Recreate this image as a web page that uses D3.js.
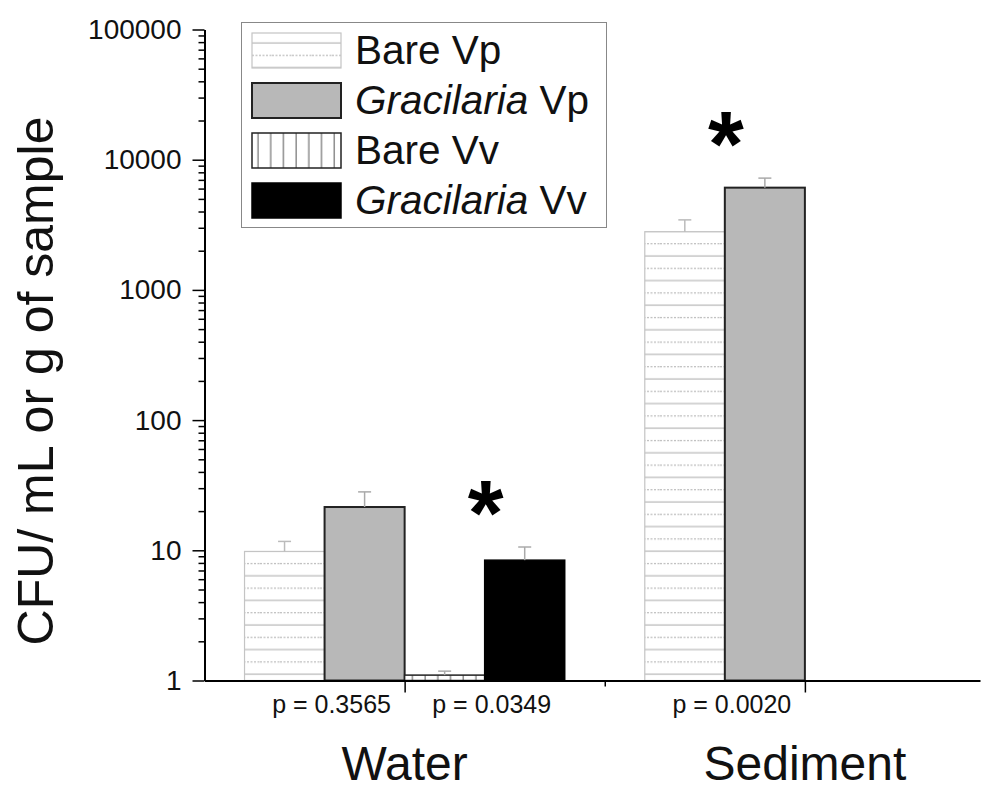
<!DOCTYPE html>
<html>
<head>
<meta charset="utf-8">
<script src="https://cdn.jsdelivr.net/npm/d3@7"></script>
<style>
  body { margin: 0; background: #fff; }
  svg { display: block; font-family: "Liberation Sans", Arial, sans-serif; }
</style>
</head>
<body>
<div id="chart"></div>
<script>
// categories on the x axis
var categories = ["Water", "Sediment"];
// the four series, in legend order
var seriesNames = ["Bare Vp", "Gracilaria Vp", "Bare Vv", "Gracilaria Vv"];
// means (CFU / mL or g), null = not measured
var bareVp = [9.8, 2800];
var gracilariaVp = [21.5, 6100];
var bareVv = [1.1, null];
var gracilariaVv = [8.4, null];
// upper error (SD)
var bareVpErr = [1.9, 650];
var gracilariaVpErr = [6.6, 1120];
var bareVvErr = [0.08, null];
var gracilariaVvErr = [2.2, null];
// y tick labels
var yTickLabels = ["1", "10", "100", "1000", "10000", "100000"];
// p values under each compared pair: [category index, first series index]
var pLabels = ["p = 0.3565", "p = 0.0349", "p = 0.0020"];
var pPairs = [[0, 0], [0, 2], [1, 0]];
// significant pairs get an asterisk
var starPairs = [[0, 2], [1, 0]];

var means = [bareVp, gracilariaVp, bareVv, gracilariaVv];
var errs = [bareVpErr, gracilariaVpErr, bareVvErr, gracilariaVvErr];

var width = 995, height = 791;
var svg = d3.select('#chart').append('svg')
    .attr('width', width)
    .attr('height', height);

var defs = svg.append('defs');

// horizontal light hatch (Bare Vp)
var ph = defs.append('pattern')
    .attr('id', 'hatchH')
    .attr('patternUnits', 'userSpaceOnUse')
    .attr('width', 20).attr('height', 24.6)
    .attr('y', 4);
ph.append('rect').attr('width', 20).attr('height', 24.6).attr('fill', '#fff');
ph.append('line').attr('x1', 0).attr('x2', 20).attr('y1', 6).attr('y2', 6)
    .attr('stroke', '#bdbdbd').attr('stroke-width', 1.3);
ph.append('line').attr('x1', 0).attr('x2', 20).attr('y1', 18.3).attr('y2', 18.3)
    .attr('stroke', '#bdbdbd').attr('stroke-width', 1.3).attr('stroke-dasharray', '2,1.5');

// vertical hatch (Bare Vv)
var pv = defs.append('pattern')
    .attr('id', 'hatchV')
    .attr('patternUnits', 'userSpaceOnUse')
    .attr('width', 12.7).attr('height', 20);
pv.append('rect').attr('width', 12.7).attr('height', 20).attr('fill', '#fff');
pv.append('line').attr('x1', 6).attr('x2', 6).attr('y1', 0).attr('y2', 20)
    .attr('stroke', '#555').attr('stroke-width', 1);

var fills = ['url(#hatchH)', '#b8b8b8', 'url(#hatchV)', '#000'];
var strokes = ['#c4c4c4', '#222', '#222', '#000'];
var strokeW = [1.2, 2, 1.5, 1.5];
var errColor = ['#bbb', '#aaa', '#aaa', '#aaa'];

var y = d3.scaleLog()
    .domain([1, 100000])
    .range([680.5, 29.5]);

var x = d3.scaleLinear()
    .domain([0.5, 2.4375])
    .range([204.5, 980]);

// position of a series inside a group, in category units
var sub = d3.scaleBand()
    .domain(seriesNames)
    .range([-0.4, 0.4]);

var bars = [];
means.forEach(function (vals, s) {
    vals.forEach(function (v, c) {
        if (v == null) return;
        bars.push({ s: s, c: c, value: v, err: errs[s][c] });
    });
});

var barG = svg.append('g');
barG.selectAll('rect')
    .data(bars)
    .enter()
    .append('rect')
    .attr('x', function (d) { return x(d.c + 1 + sub(seriesNames[d.s])); })
    .attr('width', x(1 + sub.bandwidth()) - x(1))
    .attr('y', function (d) { return y(d.value); })
    .attr('height', function (d) { return y(1) - y(d.value); })
    .attr('fill', function (d) { return fills[d.s]; })
    .attr('stroke', function (d) { return strokes[d.s]; })
    .attr('stroke-width', function (d) { return strokeW[d.s]; });

// upper error bars
var eb = barG.selectAll('.err')
    .data(bars)
    .enter()
    .append('g')
    .attr('class', 'err')
    .attr('stroke', function (d) { return errColor[d.s]; })
    .attr('stroke-width', 1.5);
function midX(d) { return x(d.c + 1 + sub(seriesNames[d.s]) + sub.bandwidth() / 2); }
eb.append('line')
    .attr('x1', midX).attr('x2', midX)
    .attr('y1', function (d) { return y(d.value); })
    .attr('y2', function (d) { return y(d.value + d.err); });
eb.append('line')
    .attr('x1', function (d) { return midX(d) - 6.5; })
    .attr('x2', function (d) { return midX(d) + 6.5; })
    .attr('y1', function (d) { return y(d.value + d.err); })
    .attr('y2', function (d) { return y(d.value + d.err); });

// y axis, log with minor ticks
var majors = d3.range(0, 6).map(function (k) { return Math.pow(10, k); });
var minors = [];
for (var k = 0; k < 5; k++) {
    for (var m = 2; m < 10; m++) minors.push(m * Math.pow(10, k));
}
var yAxisG = svg.append('g')
    .attr('transform', 'translate(204.5,0)');
yAxisG.append('g')
    .call(d3.axisLeft(y).tickValues(minors).tickSize(6).tickSizeOuter(0).tickFormat(''))
    .call(function (g) { g.select('.domain').remove(); });
yAxisG.append('g')
    .call(d3.axisLeft(y).tickValues(majors).tickSize(12).tickSizeOuter(0).tickPadding(11)
        .tickFormat(function (d, i) { return yTickLabels[i]; }));
yAxisG.selectAll('line').attr('stroke', '#000').attr('stroke-width', 1.5);
yAxisG.selectAll('.domain').attr('stroke', '#000').attr('stroke-width', 2);
yAxisG.selectAll('text')
    .style('font-size', '28px')
    .style('font-family', '"Liberation Sans", Arial, sans-serif')
    .attr('fill', '#111');

// x axis
var xAxisG = svg.append('g')
    .attr('transform', 'translate(0,680.5)');
xAxisG.append('g')
    .call(d3.axisBottom(x).tickValues([1, 2]).tickSize(12).tickSizeOuter(0).tickFormat(''));
xAxisG.append('g')
    .call(d3.axisBottom(x).tickValues([1.5]).tickSize(6).tickSizeOuter(0).tickFormat(''))
    .call(function (g) { g.select('.domain').remove(); });
xAxisG.selectAll('line').attr('stroke', '#000').attr('stroke-width', 1.5);
xAxisG.selectAll('.domain').attr('stroke', '#000').attr('stroke-width', 2);

// category labels
svg.append('g').selectAll('text')
    .data(categories)
    .enter()
    .append('text')
    .attr('x', function (d, i) { return x(i + 1); })
    .attr('y', 780)
    .attr('text-anchor', 'middle')
    .style('font-size', '48px')
    .attr('fill', '#111')
    .text(function (d) { return d; });

// p values
function pairX(p) { return x(p[0] + 1 + sub(seriesNames[p[1]]) + sub.bandwidth()); }
svg.append('g').selectAll('text')
    .data(pLabels)
    .enter()
    .append('text')
    .attr('x', function (d, i) { return pairX(pPairs[i]) + 7; })
    .attr('y', 713)
    .attr('text-anchor', 'middle')
    .style('font-size', '25px')
    .attr('fill', '#111')
    .text(function (d) { return d; });

// asterisks over significant pairs
svg.append('g').selectAll('text')
    .data(starPairs)
    .enter()
    .append('text')
    .attr('x', function (d) { return pairX(d) + 1; })
    .attr('y', function (d) {
        var a = means[d[1]][d[0]] + errs[d[1]][d[0]];
        var b = means[d[1] + 1][d[0]] + errs[d[1] + 1][d[0]];
        return y(Math.max(a, b)) - 2;
    })
    .attr('text-anchor', 'middle')
    .style('font-size', '92px')
    .style('font-weight', 'bold')
    .attr('fill', '#000')
    .text('*');

// y axis title
svg.append('text')
    .attr('transform', 'translate(53,381) rotate(-90)')
    .attr('text-anchor', 'middle')
    .style('font-size', '50px')
    .attr('fill', '#111')
    .text('CFU/ mL or g of sample');

// legend
var legend = svg.append('g');
legend.append('rect')
    .attr('x', 241.5).attr('y', 22.5)
    .attr('width', 365).attr('height', 205)
    .attr('fill', '#fff')
    .attr('stroke', '#888').attr('stroke-width', 1);
var item = legend.selectAll('.legend')
    .data(seriesNames)
    .enter()
    .append('g')
    .attr('class', 'legend')
    .attr('transform', function (d, i) { return 'translate(252,' + (33 + i * 50) + ')'; });
item.append('rect')
    .attr('width', 89).attr('height', 35)
    .attr('fill', function (d, i) { return fills[i]; })
    .attr('stroke', function (d, i) { return strokes[i]; })
    .attr('stroke-width', function (d, i) { return strokeW[i]; });
var lt = item.append('text')
    .attr('x', 103)
    .attr('y', 31)
    .style('font-size', '40.5px')
    .attr('fill', '#111');
lt.each(function (d) {
    var t = d3.select(this);
    var parts = d.split(' ');
    if (parts[0] === 'Gracilaria') {
        t.append('tspan').style('font-style', 'italic').text('Gracilaria');
        t.append('tspan').text(' ' + parts[1]);
    } else {
        t.text(d);
    }
});
</script>
</body>
</html>
